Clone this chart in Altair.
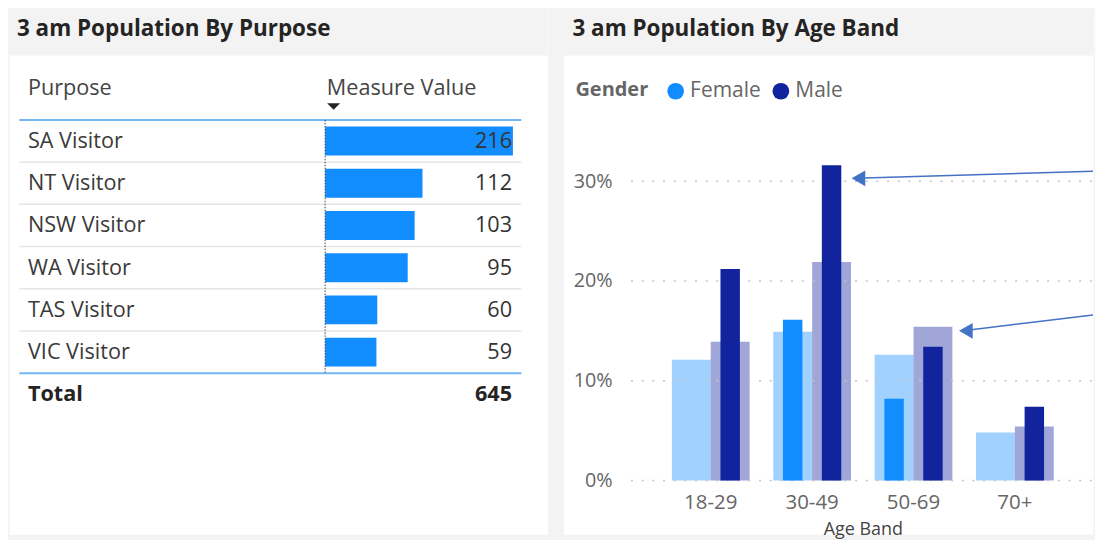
import altair as alt
import pandas as pd

# ---------------- data: left table ----------------
left_title = "3 am Population By Purpose"
header_labels = ["Purpose", "Measure Value"]
purposes = ["SA Visitor", "NT Visitor", "NSW Visitor", "WA Visitor", "TAS Visitor", "VIC Visitor"]
measure_values = [216, 112, 103, 95, 60, 59]
total_label = "Total"

# ---------------- data: right chart ----------------
right_title = "3 am Population By Age Band"
legend_title = "Gender"
x_title = "Age Band"
age_bands = ["18-29", "30-49", "50-69", "70+"]
genders = ["Female", "Male"]
female_share = [None, 0.161, 0.082, None]
male_share = [0.212, 0.316, 0.134, 0.074]
female_base = [0.121, 0.149, 0.126, 0.048]
male_base = [0.139, 0.219, 0.154, 0.054]
y_ticks = [0.0, 0.1, 0.2, 0.3]
arrow_tips = [0.303, 0.150]
arrow_tails = [0.310, 0.166]

# ---------------- styling / layout ----------------
FONT = "Open Sans"
BLUE = "#118DFF"
NAVY = "#12239E"
ARROW = "#4472C4"
LINE_BLUE = "#72B6F8"
BG = "#F3F3F3"
W_L, W_R, H, BODY_TOP, GAP = 540, 531, 526, 46, 16
ROW0, ROW_STEP = 110.5, 42.33
TXT = 21.7

one = pd.DataFrame({"k": [0]})


def title_bar(width):
    return alt.Chart(one).mark_rect(color=BG).encode(
        x=alt.value(0), x2=alt.value(width), y=alt.value(0), y2=alt.value(BODY_TOP)
    )


def title(text, x):
    return alt.Chart(pd.DataFrame({"t": [text]})).mark_text(
        align="left", baseline="middle", font=FONT, fontSize=22.5, fontWeight="bold", color="#252423"
    ).encode(x=alt.value(x), y=alt.value(19.5), text="t:N")


# ================= left panel =================
df = pd.DataFrame({"Purpose": purposes, "Value": measure_values})
df_total = pd.DataFrame({"Purpose": [total_label], "Value": [sum(measure_values)]})
row_order = purposes + [total_label]
yrow = alt.Scale(domain=row_order, range=[ROW0, ROW0 + ROW_STEP * len(row_order)],
                 paddingInner=0, paddingOuter=0)
xbar = alt.Scale(zero=True, nice=False, range=[317, 505.3])


def ypos(band=0.5):
    return alt.Y("Purpose:N", scale=yrow, axis=None, bandPosition=band)


hdr = [
    alt.Chart(pd.DataFrame({"t": [header_labels[i]]})).mark_text(
        align="left", baseline="middle", font=FONT, fontSize=TXT, color="#444444"
    ).encode(x=alt.value(xv), y=alt.value(78.5), text="t:N")
    for i, xv in enumerate([19, 318.7])
]

sort_arrow = alt.Chart(one).mark_point(
    shape="M-1,-0.5L1,-0.5L0,0.5Z", filled=True, size=170, color="#252423", opacity=1, strokeWidth=0
).encode(x=alt.value(325.5), y=alt.value(97))

header_line = alt.Chart(df.iloc[:1]).mark_rule(color=LINE_BLUE, strokeWidth=2).encode(
    x=alt.value(10.3), x2=alt.value(513.7), y=ypos(0)
)
sep_lines = alt.Chart(df.iloc[:-1]).mark_rule(color="#E6E6E6", strokeWidth=1.5).encode(
    x=alt.value(10.3), x2=alt.value(513.7), y=ypos(1)
)
total_line = alt.Chart(df.iloc[-1:]).mark_rule(color=LINE_BLUE, strokeWidth=2).encode(
    x=alt.value(10.3), x2=alt.value(513.7), y=ypos(1)
)
bars_l = alt.Chart(df).mark_bar(height=29, color=BLUE).encode(
    x=alt.X("Value:Q", scale=xbar, axis=None), y=ypos()
)
zero_line = alt.Chart(one).mark_rule(color="#444444", strokeDash=[1.5, 1.5], strokeWidth=1).encode(
    x=alt.datum(0), y=alt.value(ROW0), y2=alt.value(ROW0 + ROW_STEP * len(purposes))
)
names = alt.Chart(df).mark_text(align="left", baseline="middle", font=FONT, fontSize=TXT, color="#3A3A3A").encode(
    x=alt.value(19), y=ypos(), text="Purpose:N"
)
vals = alt.Chart(df).mark_text(align="right", baseline="middle", font=FONT, fontSize=TXT, color="#333333").encode(
    x=alt.value(504.5), y=ypos(), text="Value:Q"
)
tot_name = alt.Chart(df_total).mark_text(align="left", baseline="middle", font=FONT, fontSize=TXT,
                                         fontWeight="bold", color="#252423").encode(
    x=alt.value(19), y=ypos(), text="Purpose:N"
)
tot_val = alt.Chart(df_total).mark_text(align="right", baseline="middle", font=FONT, fontSize=TXT,
                                        fontWeight="bold", color="#252423").encode(
    x=alt.value(504.5), y=ypos(), text="Value:Q"
)

left = alt.layer(
    title_bar(W_L), title(left_title, 8), *hdr, sort_arrow, header_line, sep_lines, total_line,
    bars_l, zero_line, names, vals, tot_name, tot_val
).properties(width=W_L, height=H)

# ================= right panel =================
rows = []
for i, a in enumerate(age_bands):
    rows.append({"Age Band": a, "Gender": "Female", "Share": female_share[i], "Base": female_base[i]})
    rows.append({"Age Band": a, "Gender": "Male", "Share": male_share[i], "Base": male_base[i]})
dfr = pd.DataFrame(rows)

xband = alt.Scale(domain=age_bands, range=[96.85, 503.5], paddingInner=0.233, paddingOuter=0.1165)
yscale = alt.Scale(domain=[0, 0.3], range=[472, 172], nice=False, zero=True)
xoff = alt.Scale(domain=genders, paddingInner=0, paddingOuter=0)
cscale = alt.Scale(domain=genders, range=[BLUE, NAVY])

xaxis = alt.Axis(orient="bottom", offset=-(H - 472), domain=False, ticks=False, grid=False,
                 labelPadding=12, labelFont=FONT, labelFontSize=20.5, labelColor="#666666", labelAngle=0,
                 title=x_title, titleFont=FONT, titleFontSize=18, titleFontWeight="normal",
                 titleColor="#444444", titlePadding=7.5)
yaxis = alt.Axis(values=y_ticks, format=".0%", domain=False, ticks=False, grid=False,
                 offset=-48.7, labelPadding=0, labelFont=FONT, labelFontSize=19.8, labelColor="#666666",
                 title=None)
# the legend is placed in the chart's top-level frame, so shift it past the left panel
legend = alt.Legend(orient="none", legendX=W_L + GAP + 12, legendY=71, direction="horizontal",
                    title=legend_title, titleOrient="left", titleFont=FONT, titleFontSize=20,
                    titleFontWeight="bold", titleColor="#666666", titlePadding=17, labelFont=FONT,
                    labelFontSize=21, labelColor="#666666", symbolType="circle", symbolSize=279,
                    symbolStrokeWidth=0, symbolOpacity=1, labelOffset=4, columnPadding=9.5)

grid = alt.Chart(pd.DataFrame({"tick": y_ticks})).mark_rule(
    color="#C4C4C4", strokeDash=[2, 8.7], strokeWidth=1.5
).encode(y=alt.Y("tick:Q", scale=yscale), x=alt.value(67.7), x2=alt.value(W_R))

light = alt.Chart(dfr).mark_bar(opacity=0.4).encode(
    x=alt.X("Age Band:N", scale=xband, axis=xaxis, sort=None),
    xOffset=alt.XOffset("Gender:N", scale=xoff),
    y=alt.Y("Base:Q", scale=yscale, axis=yaxis),
    color=alt.Color("Gender:N", scale=cscale, legend=legend),
)
dark = alt.Chart(dfr).mark_bar(width=19.5).encode(
    x=alt.X("Age Band:N", scale=xband, sort=None),
    xOffset=alt.XOffset("Gender:N", scale=xoff),
    y=alt.Y("Share:Q", scale=yscale),
    color=alt.Color("Gender:N", scale=cscale),
)

arrow_x = [285, 392.7]
arrows = []
for tip, tail, xt in zip(arrow_tips, arrow_tails, arrow_x):
    d = pd.DataFrame({"tip": [tip], "tail": [tail]})
    arrows.append(alt.Chart(d).mark_rule(color=ARROW, strokeWidth=1.5).encode(
        x=alt.value(xt + 8), x2=alt.value(W_R),
        y=alt.Y("tip:Q", scale=yscale), y2="tail:Q"))
    arrows.append(alt.Chart(d).mark_point(shape="triangle-left", filled=True, size=250, color=ARROW,
                                          opacity=1, strokeWidth=0).encode(
        x=alt.value(xt + 10.8), y=alt.Y("tip:Q", scale=yscale)))

right = alt.layer(
    title_bar(W_R), title(right_title, 9), light, grid, dark, *arrows
).properties(width=W_R, height=H)

chart = alt.hconcat(left, right, spacing=GAP, padding=0, background=BG, bounds="flush").configure(
    font=FONT
).configure_view(stroke="transparent", fill="white")

chart.save("out.html", embed_options={"renderer": "svg", "actions": False})
